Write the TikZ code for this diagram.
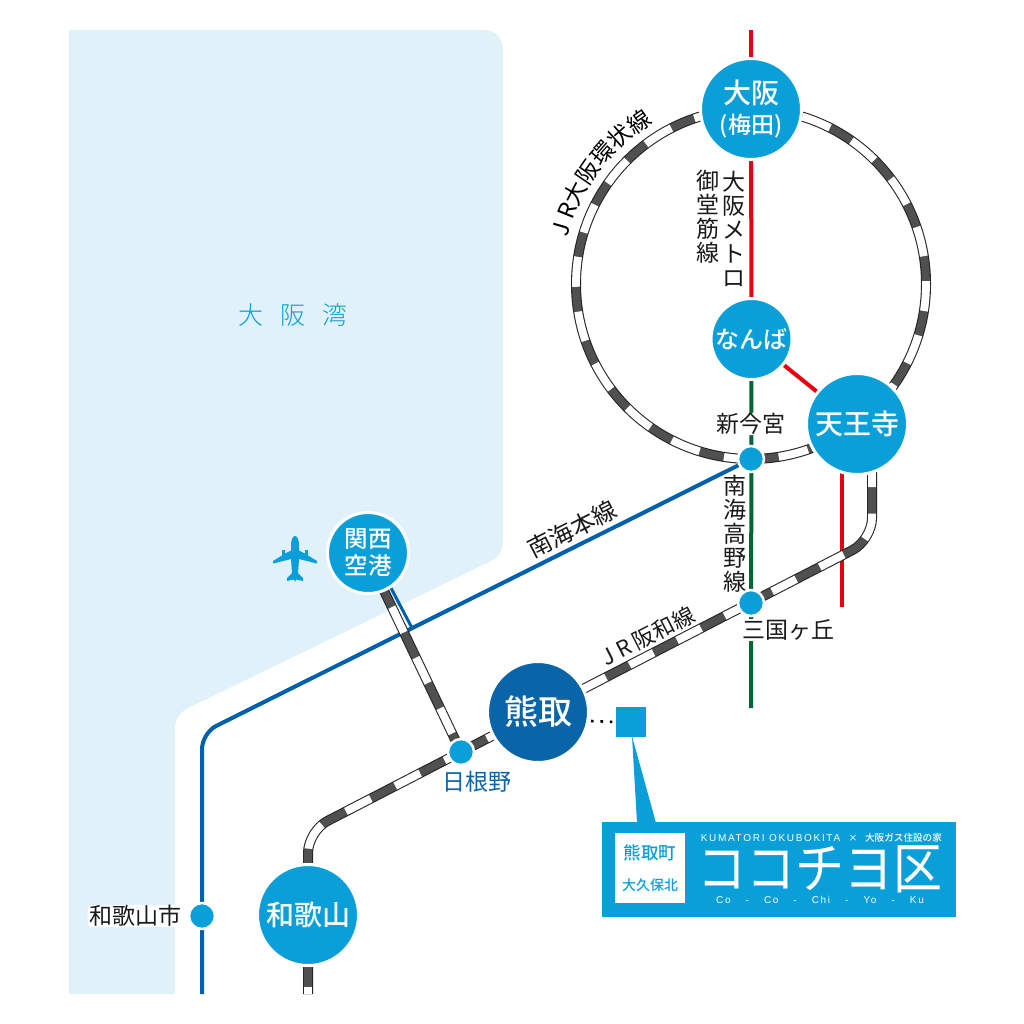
\documentclass[tikz,border=0pt]{standalone}
\usepackage{fontspec}
\usepackage{graphicx}
\usetikzlibrary{decorations.text}
\setmainfont{Noto Sans CJK JP}
\newfontfamily\jpm{Noto Sans CJK JP Medium}
\newfontfamily\jpl{Noto Sans CJK JP Light}
\newfontfamily\lat[LetterSpace=17]{Liberation Sans}
\newcommand{\fsz}[1]{\fontsize{#1}{#1}\selectfont}
\definecolor{st}{HTML}{0A9FD8}
\definecolor{kuma}{HTML}{0A64A8}
\definecolor{seac}{HTML}{E0F1FA}
\definecolor{blueline}{HTML}{0060AC}
\definecolor{redline}{HTML}{E60012}
\definecolor{greenline}{HTML}{006633}
\definecolor{railedge}{HTML}{262626}
\definecolor{railgrey}{HTML}{505050}
\definecolor{ink}{HTML}{1A1A1A}
\pgfdeclarelayer{sea}
\pgfdeclarelayer{lines}
\pgfsetlayers{sea,lines,main}
\tikzset{
  bigst/.style={circle,fill=st,draw=white,line width=3,inner sep=0,minimum size=#1+3,text=white,align=center,font=\jpm},
  smallst/.style={circle,fill=st,draw=white,line width=2.5,inner sep=0,minimum size=26},
  lbl/.style={inner sep=0,text=ink,align=center,font=\fontsize{23}{24}\selectfont},
  halo/.style={fill=white,inner xsep=1.5,inner ysep=0.5,rounded corners=4},
  railway/.style n args={3}{draw=railedge,line width=10,
    postaction={draw=railgrey,line width=7.8},
    postaction={draw=white,line width=7.8,dash pattern=on #1 off #2,dash phase=#3}},
  redl/.style={draw=redline,line width=4},
  greenl/.style={draw=greenline,line width=4},
  bluel/.style={draw=blueline,line width=4},
}
\begin{document}
\begin{tikzpicture}[x=1pt,y=-1pt]
\useasboundingbox (0,0) rectangle (1024,1024);
\begin{pgfonlayer}{sea}
\fill[white] (0,0) rectangle (1024,1024);
\fill[seac] (69,30) -- (483,30) .. controls (495,30) and (503,38) .. (503,50) -- (503,540)
  .. controls (503,551) and (499,557) .. (490,561.5)
  -- (188,708) .. controls (179,713) and (175,719) .. (175,730)
  -- (175,994) -- (69,994) -- cycle;
\end{pgfonlayer}
% stations
\coordinate (ringc) at (751,284);
\node[bigst=98,font=\jpm\fontsize{23}{30}\selectfont] (osaka) at (751,109) {{\fsz{28}大阪}\\{(梅田)}};
\node[bigst=78,font=\jpm\fsz{24}] (namba) at (751.5,339) {なんば};
\node[bigst=98,font=\jpm\fsz{28}] (tennoji) at (857,424) {天王寺};
\node[bigst=78,font=\jpm\fontsize{23.5}{27}\selectfont] (kansai) at (368,553) {関西\\空港};
\node[bigst=98,fill=kuma,font=\jpm\fsz{34}] (kumatori) at (538,712) {熊取};
\node[bigst=98,font=\jpm\fsz{28}] (wakayama) at (308,915) {和歌山};
\node[smallst] (shin) at (751,459) {};
\node[smallst] (mikuni) at (751,603) {};
\node[smallst] (hineno) at (461,752) {};
\node[smallst] (wakashi) at (202,916) {};
% free ends
\coordinate (redtop) at (751,30);
\coordinate (redtnA) at (842,424);
\coordinate (redtnB) at (842,607);
\coordinate (greenend) at (751,708);
\coordinate (hanwaS) at (872,424);
\coordinate (hanwaE) at (872,540);
\coordinate (hanwaW) at (308,831);
\coordinate (wakaEnd) at (308,994);
\coordinate (nankaiB) at (202,733);
\coordinate (nankaiEnd) at (202,994);
\coordinate (kansaiRail) at (366,553);
\coordinate (brA) at (391,588);
\coordinate (brB) at (412,628);
\begin{pgfonlayer}{lines}
\draw[redl] (redtop) -- (osaka.center);
\draw[redl] (osaka.center) -- (namba.center);
\draw[redl] (namba.center) -- (tennoji.center);
\draw[redl] (redtnA) -- (redtnB);
\draw[greenl] (namba.center) -- (greenend);
\draw[railway={30}{25}{3}] ([shift={(ringc)}]-90:175) arc[start angle=-90,end angle=270,radius=175];
\draw[bluel,rounded corners=16] (shin.center) -- (nankaiB) -- (nankaiEnd);
\draw[draw=blueline,line width=3] (brA) -- (brB);
\draw[railway={28}{28}{52}] (kansaiRail) -- (hineno.center);
\draw[railway={27}{26.5}{17.5},rounded corners=22] (hanwaS) -- (hanwaE) -- (hineno.center);
\draw[railway={28}{27.5}{9.5},rounded corners=22] (hineno.center) -- (hanwaW) -- (wakaEnd);
\end{pgfonlayer}
% labels
\node[lbl,text=st,font=\jpl\fsz{25}] (bay) at (293,315) {大\hspace{17pt}阪\hspace{17pt}湾};
\path[decorate,decoration={text along path,text align=center,text={|\fsz{23}|J R大阪環状線}}]
  ([shift={(ringc)}]-178.5:189) arc[start angle=-178.5,end angle=-108.5,radius=189];
\node[lbl] (mido) at (708,217) {御\\堂\\筋\\線};
\node[lbl] (metro) at (734,228.5) {大\\阪\\メ\\ト\\ロ};
\node[lbl,halo] (shinl) at (751,424) {新今宮};
\node[lbl] (kouya) at (735,534) {南\\海\\高\\野\\線};
\node[lbl,halo] (mikunil) at (788,630) {三国ヶ丘};
\node[lbl,font=\fsz{22},rotate=27] (hanwal) at (648,636) {J\hspace{5pt}R\hspace{4pt}阪和線};
\node[lbl,font=\fsz{24},rotate=27] (nankail) at (572,529) {南海本線};
\node[lbl,text=kuma] (hinenol) at (477,782) {日根野};
\node[lbl,halo] (wakashil) at (135,916) {和歌山市};
% plane
\fill[st] (295,536) .. controls (297.5,536) and (299,540) .. (299,546) -- (299,550.5)
  -- (305,553.5) -- (305,550) -- (308,550) -- (308,555.5) -- (317,561) -- (317,563.5)
  -- (299,559) -- (298,573) -- (303,578) -- (303,581) -- (296,579.5) -- (295,582)
  -- (294,579.5) -- (287,581) -- (287,578) -- (292,573) -- (291,559) -- (273,563.5)
  -- (273,561) -- (282,555.5) -- (282,550) -- (285,550) -- (285,553.5) -- (291,550.5)
  -- (291,546) .. controls (291,540) and (292.5,536) .. (295,536) -- cycle;
% legend
\coordinate (dotA) at (591,721);
\node[fill=st,inner sep=0,minimum size=30] (sq) at (631,722) {};
\draw[line width=2.6,dash pattern=on 2.6 off 6.8] (dotA) -- (sq.west);
\node[fill=st,inner sep=0,minimum width=354,minimum height=95] (board) at (779,869.5) {};
\fill[st] (632,736) -- (637,823) -- (656,823) -- cycle;
\node[fill=white,inner sep=0,minimum width=70,minimum height=70] (wbox) at (650,868) {};
\node[inner sep=0,text=st,font=\jpm\fsz{17.5}] (t1) at (650,853) {熊取町};
\node[inner sep=0,text=st,font=\jpm\fsz{14}] (t2) at (650,885) {大久保北};
\node[inner sep=0,text=white,font=\lat\fsz{10}] (t3) at (770.5,838) {KUMATORI OKUBOKITA};
\node[inner sep=0,text=white,font=\jpm\fsz{9}] (t4) at (853,838) {×};
\node[inner sep=0,text=white,font=\jpm\fsz{9.6}] (t5) at (903.5,838) {大阪ガス住設の家};
\node[inner sep=0,text=white,font=\fsz{49}] (logo) at (820,869) {\scalebox{1}[1.12]{ココチヨ区}};
\node[inner sep=0,text=white,font=\lat\fsz{10}] (t6) at (820,900) {Co\hspace{15pt}-\hspace{15pt}Co\hspace{15pt}-\hspace{15pt}Chi\hspace{15pt}-\hspace{15pt}Yo\hspace{15pt}-\hspace{15pt}Ku};
\end{tikzpicture}
\end{document}
